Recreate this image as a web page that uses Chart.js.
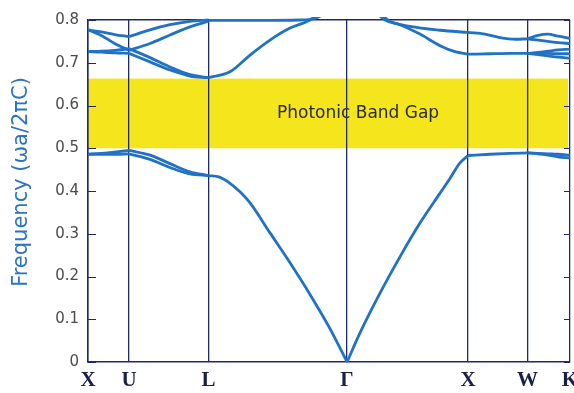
<!DOCTYPE html>
<html>
<head>
<meta charset="utf-8">
<script src="https://cdn.jsdelivr.net/npm/chart.js"></script>
<style>
  html, body { margin: 0; background: #fff; }
  #wrap { width: 574px; height: 393px; }
</style>
</head>
<body>
<div id="wrap"><canvas id="bands"></canvas></div>
<script>
// symmetry points along the k path
const symLabels = ['X', 'U', 'L', 'Γ', 'X', 'W', 'K'];
const symK = [0, 0.339, 0.995, 2.139, 3.138, 3.63, 3.98];
const yTicks = [0, 0.1, 0.2, 0.3, 0.4, 0.5, 0.6, 0.7, 0.8];
const gapRange = [0.5, 0.663];
const gapLabel = 'Photonic Band Gap';
const yTitle = 'Frequency (ωa/2πC)';

// X - U
const kXU = [0, 0.11, 0.22, 0.339];
const xuBands = [
  [0.486, 0.486, 0.486, 0.487],
  [0.486, 0.488, 0.491, 0.495],
  [0.777, 0.772, 0.766, 0.761],
  [0.777, 0.764, 0.745, 0.729],
  [0.726, 0.727, 0.729, 0.733],
  [0.726, 0.725, 0.723, 0.722]
];

// U - L
const kUL = [0.339, 0.512, 0.677, 0.842, 0.995];
const ulBands = [
  [0.487, 0.474, 0.455, 0.440, 0.436],
  [0.495, 0.484, 0.464, 0.445, 0.436],
  [0.761, 0.777, 0.789, 0.797, 0.800],
  [0.729, 0.745, 0.765, 0.784, 0.797],
  [0.733, 0.712, 0.690, 0.672, 0.665],
  [0.722, 0.702, 0.683, 0.669, 0.665]
];

// L - Gamma
const kLGlow = [0.995, 1.08, 1.173, 1.255, 1.338, 1.503, 1.668, 1.833, 1.998, 2.139];
const lgLow = [0.436, 0.433, 0.418, 0.398, 0.372, 0.302, 0.232, 0.158, 0.078, 0];
const kLGmid = [0.995, 1.173, 1.338, 1.503, 1.668, 1.833, 1.95, 2.139];
const lgMid = [0.665, 0.679, 0.718, 0.753, 0.781, 0.800, 0.825, 0.86];
const kLGtop = [0.995, 1.4, 1.75, 1.88, 2.0, 2.139];
const lgTop = [0.799, 0.799, 0.800, 0.804, 0.825, 0.86];

// Gamma - X
const kGXlow = [2.139, 2.246, 2.411, 2.576, 2.741, 2.907, 2.99, 3.07, 3.138];
const gxLow = [0, 0.068, 0.161, 0.246, 0.325, 0.395, 0.43, 0.465, 0.483];
const kGXe = [2.139, 2.3, 2.453, 2.576, 2.741, 2.907, 3.03, 3.138];
const gxE = [0.88, 0.84, 0.8, 0.789, 0.767, 0.74, 0.726, 0.72];
const kGXf = [2.139, 2.35, 2.494, 2.659, 2.907, 3.138];
const gxF = [0.88, 0.83, 0.797, 0.785, 0.776, 0.771];

// X - W
const kXW = [3.138, 3.32, 3.485, 3.63];
const xwLow = [0.483, 0.486, 0.488, 0.489];
const xwE = [0.720, 0.721, 0.722, 0.722];
const kXWf = [3.138, 3.278, 3.402, 3.526, 3.63];
const xwF = [0.771, 0.767, 0.759, 0.755, 0.756];

// W - K
const kWK = [3.63, 3.716, 3.798, 3.881, 3.98];
const wkBands = [
  [0.489, 0.488, 0.487, 0.486, 0.484],
  [0.489, 0.487, 0.484, 0.480, 0.477],
  [0.756, 0.764, 0.767, 0.762, 0.757],
  [0.756, 0.753, 0.750, 0.747, 0.745],
  [0.722, 0.724, 0.727, 0.730, 0.732],
  [0.722, 0.722, 0.722, 0.721, 0.721],
  [0.722, 0.719, 0.716, 0.713, 0.711]
];

const curves = [];
xuBands.forEach(b => curves.push([kXU, b]));
ulBands.forEach(b => curves.push([kUL, b]));
curves.push([kLGlow, lgLow], [kLGmid, lgMid], [kLGtop, lgTop]);
curves.push([kGXlow, gxLow], [kGXe, gxE], [kGXf, gxF]);
curves.push([kXW, xwLow], [kXW, xwE], [kXWf, xwF]);
wkBands.forEach(b => curves.push([kWK, b]));

const navy = '#1f2868';
const blue = '#2171c4';

const datasets = curves.map(([ks, fs]) => ({
  data: ks.map((k, i) => ({ x: k, y: fs[i] })),
  showLine: true,
  borderColor: blue,
  borderWidth: 2.8,
  pointRadius: 0,
  cubicInterpolationMode: 'monotone',
  clip: 3
}));

// yellow gap band, its label, the axis title and the inward tick marks
const gapPlugin = {
  id: 'gap',
  beforeDraw(chart) {
    const { ctx, chartArea, scales } = chart;
    const y1 = scales.y.getPixelForValue(gapRange[1]);
    const y0 = scales.y.getPixelForValue(gapRange[0]);
    ctx.save();
    ctx.fillStyle = '#f4e51c';
    ctx.fillRect(chartArea.left, y1, chartArea.right - 2 - chartArea.left, y0 - y1);
    ctx.fillStyle = '#2a2a2a';
    ctx.font = '17px "DejaVu Sans"';
    ctx.textAlign = 'center';
    ctx.textBaseline = 'middle';
    ctx.fillText(gapLabel, scales.x.getPixelForValue(2.23), (y0 + y1) / 2);

    ctx.translate(22, (chartArea.top + chartArea.bottom) / 2 - 9);
    ctx.rotate(-Math.PI / 2);
    ctx.fillStyle = '#2a74c0';
    ctx.font = '21px "DejaVu Sans"';
    ctx.fillText(yTitle, 0, 0);
    ctx.restore();
  },
  afterDraw(chart) {
    const { ctx, chartArea, scales } = chart;
    ctx.save();
    ctx.strokeStyle = navy;
    ctx.lineWidth = 1;
    yTicks.forEach(v => {
      const y = Math.round(scales.y.getPixelForValue(v)) + 0.5;
      ctx.beginPath();
      ctx.moveTo(chartArea.left, y);
      ctx.lineTo(chartArea.left + 8, y);
      ctx.moveTo(chartArea.right, y);
      ctx.lineTo(chartArea.right - 6, y);
      ctx.stroke();
    });
    ctx.restore();
  }
};

new Chart(document.getElementById('bands'), {
  type: 'scatter',
  data: { datasets },
  options: {
    responsive: true,
    maintainAspectRatio: false,
    devicePixelRatio: 1,
    animation: false,
    layout: { padding: { top: 20, right: 4, left: 0, bottom: 0 } },
    plugins: { legend: { display: false }, tooltip: { enabled: false } },
    scales: {
      x: {
        type: 'linear',
        min: 0,
        max: symK[symK.length - 1],
        afterBuildTicks: s => { s.ticks = symK.map(v => ({ value: v })); },
        afterFit: s => { s.height = 31; s.paddingLeft = 0; s.paddingRight = 0; },
        ticks: {
          autoSkip: false,
          maxRotation: 0,
          padding: 6,
          color: '#1a1f4a',
          font: { family: '"Liberation Serif"', size: 21, weight: 'bold' },
          callback: (v, i) => symLabels[i]
        },
        grid: { color: navy, lineWidth: 1.3, drawTicks: false },
        border: { color: navy, width: 1.5 }
      },
      y: {
        min: 0,
        max: 0.8,
        afterBuildTicks: s => { s.ticks = yTicks.map(v => ({ value: v })); },
        afterFit: s => { s.width = 88; },
        ticks: {
          padding: 9,
          color: '#4a4a4a',
          font: { family: '"DejaVu Sans"', size: 15 },
          callback: v => (v === 0 ? '0' : v.toFixed(1))
        },
        grid: {
          drawTicks: false,
          lineWidth: 1.5,
          color: ctx => (ctx.tick && ctx.tick.value === 0.8 ? navy : 'rgba(0,0,0,0)')
        },
        border: { color: navy, width: 1.5 }
      }
    }
  },
  plugins: [gapPlugin]
});
</script>
</body>
</html>
